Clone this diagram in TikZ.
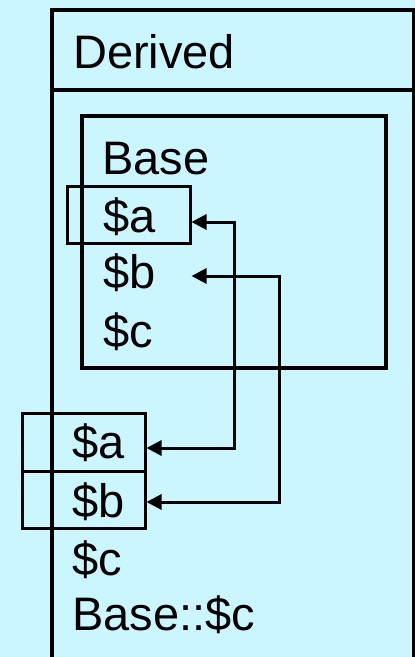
\documentclass[tikz,border=0pt]{standalone}
\usepackage{fontspec}
\setmainfont{Liberation Sans}
\usetikzlibrary{arrows.meta}
\definecolor{bgcyan}{RGB}{204,246,255}

\begin{document}
\begin{tikzpicture}[
    x=1pt, y=-1pt,
    member/.style={anchor=base west, inner sep=0pt, font=\fontsize{47}{50}\selectfont},
    frame/.style={draw, line width=3.3pt},
    slot/.style={draw, line width=3pt, minimum width=123pt, minimum height=57pt, inner sep=0pt},
    link/.style={line width=3pt, {Triangle[length=15pt,width=15pt]}-{Triangle[length=15pt,width=15pt]}}
]
    \fill[bgcyan] (0,0) rectangle (415,657);
    \clip (0,0) rectangle (415,657);

    % Derived
    \draw[frame] (52,10) rectangle (414,690);
    \draw[frame] (52,90) -- (414,90);
    \node[member] (derived) at (73,68) {Derived};

    % Base inside Derived
    \draw[frame] (82,116) rectangle (386,368);
    \node[member] (base) at (102,174) {Base};
    \node[member] (ba) at (103,232) {\$a};
    \node[member] (bb) at (103,288) {\$b};
    \node[member] (bc) at (103,347) {\$c};
    \node[slot] (babox) at (128.5,215) {};

    % own members
    \node[member] (da) at (72,458) {\$a};
    \node[member] (db) at (72,517) {\$b};
    \node[member] (dc) at (72,575) {\$c};
    \node[member] (dbc) at (72,630) {Base::\$c};
    \node[slot, minimum height=58pt] (dabox) at (83.5,442) {};
    \node[slot] (dbbox) at (83.5,499.5) {};

    \draw[link] ([yshift=10pt]ba.base -| babox.east) -- ++(43,0) |- ([yshift=10pt]da.base -| dabox.east);
    \draw[link] ([yshift=12pt]bb.base -| babox.east) -- ++(88,0) |- ([yshift=15pt]db.base -| dbbox.east);
\end{tikzpicture}
\end{document}
